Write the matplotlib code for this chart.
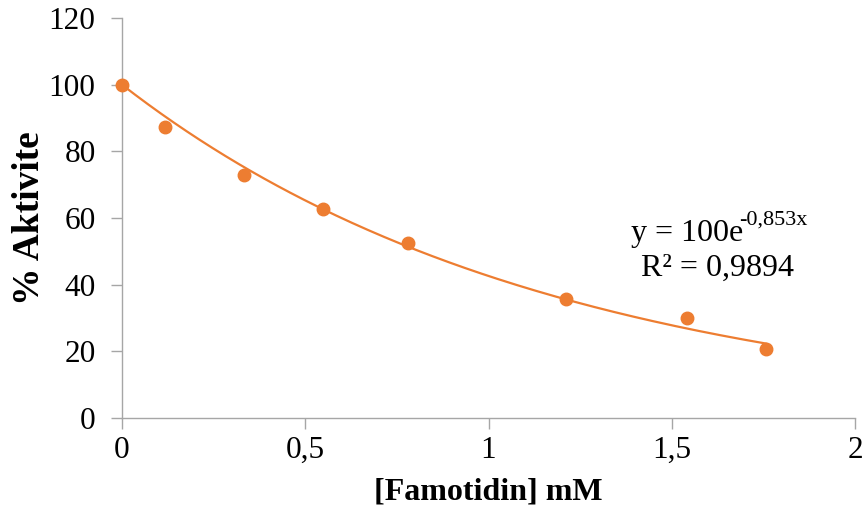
import numpy as np
import matplotlib
matplotlib.use("Agg")
import matplotlib.pyplot as plt

# measured points
famotidin_mM = [0.0, 0.117, 0.333, 0.548, 0.78, 1.211, 1.542, 1.757]
aktivite_pct = [100.0, 87.2, 73.0, 62.8, 52.6, 35.7, 30.0, 20.6]

# exponential trendline y = a * exp(b x)
fit_a = 100.0
fit_b = -0.853
eq_main = "y = 100e"
eq_exp = "-0,853x"
r2_text = "R² = 0,9894"

plt.rcParams["font.family"] = ["Liberation Serif", "DejaVu Serif"]

orange = "#ED7D31"
gray = "#A6A6A6"

fig = plt.figure(figsize=(8.67, 5.15), dpi=100)
ax = fig.add_axes([0.1407, 0.1883, 0.8455, 0.7767])

xs = np.linspace(min(famotidin_mM), max(famotidin_mM), 200)
ax.plot(xs, fit_a * np.exp(fit_b * xs), color=orange, lw=1.6, zorder=2)
ax.plot(famotidin_mM, aktivite_pct, "o", color=orange, ms=9, zorder=3,
        clip_on=False)

ax.set_xlim(0, 2)
ax.set_ylim(0, 120)
ax.set_xticks([0, 0.5, 1, 1.5, 2])
ax.set_xticklabels(["0", "0,5", "1", "1,5", "2"])
ax.set_yticks(range(0, 121, 20))

for s in ["top", "right"]:
    ax.spines[s].set_visible(False)
for s in ["left", "bottom"]:
    ax.spines[s].set_color(gray)
    ax.spines[s].set_linewidth(1.0)
ax.tick_params(axis="both", colors=gray, labelcolor="black", labelsize=22.5,
               length=8, width=1.0, direction="out")
ax.tick_params(axis="x", pad=5)
ax.tick_params(axis="y", pad=11)

ax.set_xlabel("[Famotidin] mM", fontsize=23, fontweight="bold", labelpad=9)
ax.set_ylabel("% Aktivite", fontsize=27, fontweight="bold", labelpad=1)

# trendline equation, main part + superscript exponent
main = ax.text(1.541, 55.5, eq_main, fontsize=23, ha="center", va="center")
ax.annotate(eq_exp, xy=(1.0, 0.62), xycoords=main, xytext=(-3, 0),
            textcoords="offset points", fontsize=16, ha="left", va="bottom")
ax.text(1.626, 45, r2_text, fontsize=23, ha="center", va="center")

fig.savefig("out.png", dpi=100)
